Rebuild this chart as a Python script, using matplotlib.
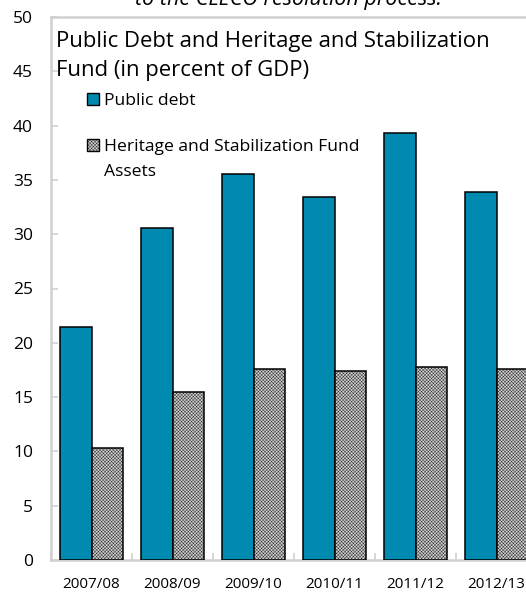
import numpy as np
import matplotlib
matplotlib.use("Agg")
import matplotlib.pyplot as plt
from matplotlib.patches import Rectangle

plt.rcParams['font.family'] = ['Open Sans', 'DejaVu Sans']
plt.rcParams['hatch.linewidth'] = 0.25
plt.rcParams['hatch.color'] = '#b0b0b0'

# data
years = ['2007/08', '2008/09', '2009/10', '2010/11', '2011/12', '2012/13']
public_debt = [21.5, 30.6, 35.5, 33.4, 39.3, 33.9]
fund_assets = [10.3, 15.5, 17.6, 17.4, 17.8, 17.6]

BLUE = '#008aaf'
GREY = '#d0d0d0'
HATCH = 'xxxxxxxxxx'
SPINE = '#d0d0d0'

W, H = 526, 593
fig = plt.figure(figsize=(W / 100, H / 100), dpi=100)
# axes runs a bit past the right edge, like the cropped original
ax = fig.add_axes([51 / W, (H - 560) / H, (537 - 51) / W, (560 - 17) / H])

x = np.arange(len(years))
bw = 0.395
ax.bar(x - bw / 2, public_debt, bw, color=BLUE, edgecolor='black', linewidth=1.1, zorder=3)
ax.bar(x + bw / 2, fund_assets, bw, color=GREY, edgecolor='black', linewidth=1.1,
       hatch=HATCH, zorder=3)

ax.set_xlim(-0.5, len(years) - 0.5)
ax.set_ylim(0, 50)
ax.set_yticks(np.arange(0, 51, 5))
ax.set_xticks(x)
ax.set_xticklabels(years, fontsize=11)
ax.set_xticks(np.arange(-0.5, len(years), 1), minor=True)
ax.tick_params(axis='x', which='major', length=0, pad=12)
ax.tick_params(axis='x', which='minor', direction='in', length=5, color=SPINE, width=1.2)
ax.tick_params(axis='y', direction='in', length=5, color=SPINE, width=1.2, labelsize=12.5, pad=13)
for s in ax.spines.values():
    s.set_color(SPINE)
    s.set_linewidth(1.8)
ax.spines['right'].set_visible(False)

def ytop(px):
    return 1 - px / H

# title inside the plot area, one text per line
for base, line in [(47, 'Public Debt and Heritage and Stabilization'), (76, 'Fund (in percent of GDP)')]:
    fig.text(56 / W, ytop(base), line, fontsize=15.9, va='baseline', ha='left')

# legend drawn by hand to keep the two-line label
legend_items = [(105, BLUE, None, ['Public debt']),
                (151, GREY, HATCH, ['Heritage and Stabilization Fund', 'Assets'])]
for base, face, hatch, lines in legend_items:
    fig.patches.append(Rectangle((87 / W, ytop(base)), 12 / W, 12 / H,
                                 transform=fig.transFigure, facecolor=face, edgecolor='black',
                                 linewidth=1.0, hatch=hatch))
    for k, line in enumerate(lines):
        fig.text(104 / W, ytop(base + 25 * k), line, fontsize=12.6, va='baseline', ha='left')

# cut-off note at the very top
fig.text(135 / W, ytop(5), 'to the CLECO resolution process.', fontsize=15.5,
         style='italic', va='baseline', ha='left')

fig.savefig('out.png', dpi=100)
